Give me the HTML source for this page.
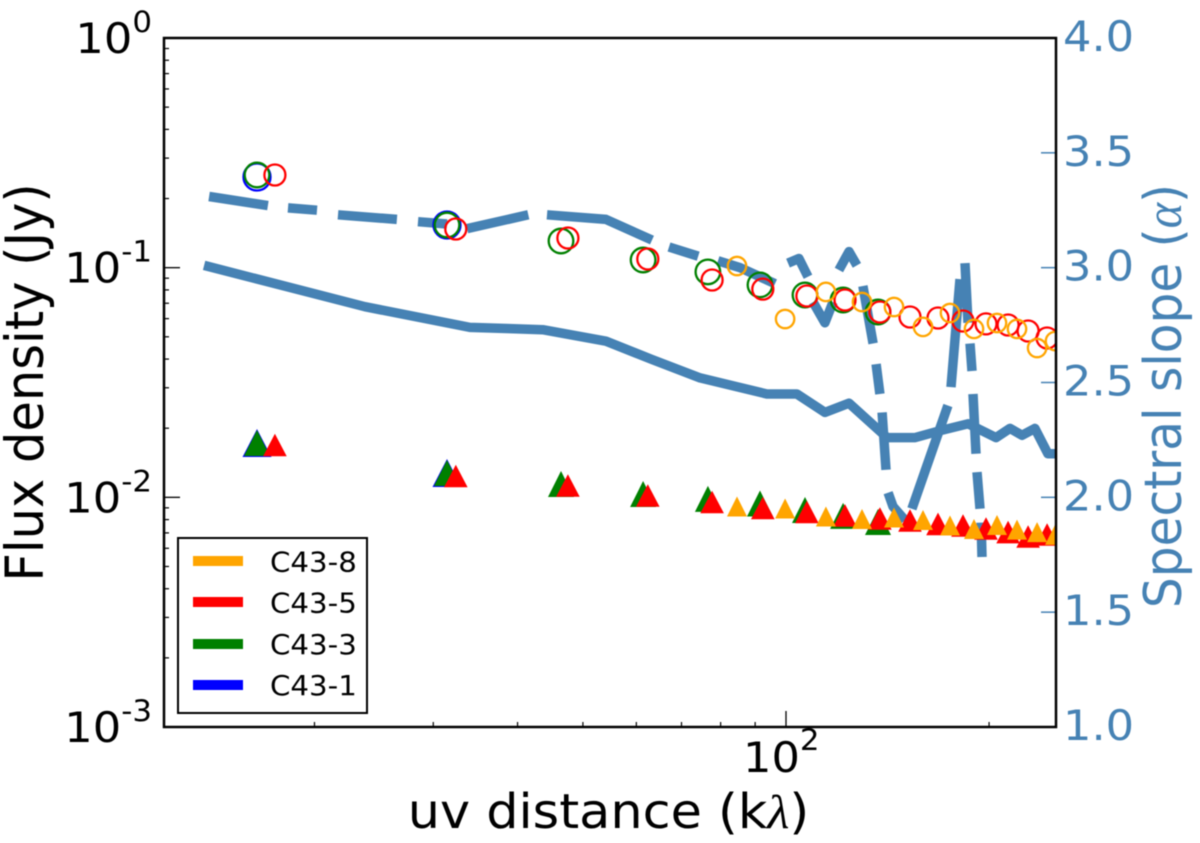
<!DOCTYPE html>
<html lang="en">
<head>
<meta charset="utf-8">
<title>Flux density and spectral slope vs uv distance</title>
<style>
html,body{margin:0;padding:0;background:#fff}
svg{display:block;filter:blur(0.4px)}
text{font-family:"DejaVu Sans","Liberation Sans",sans-serif}
</style>
</head>
<body>
<svg id="chart" xmlns="http://www.w3.org/2000/svg" width="1200" height="843" viewBox="0 0 1200 843">
  <defs><clipPath id="plot-clip"><rect x="164" y="38" width="892" height="689"/></clipPath></defs>
  <rect width="1200" height="843" fill="#fff"/>
  <g id="plot" clip-path="url(#plot-clip)"></g>
  <g id="axes"></g>
  <text transform="translate(608.5,828) scale(1.065,1)" text-anchor="middle" font-size="47.8" fill="#000">uv distance (k<tspan font-style="italic" font-family="Liberation Serif">λ</tspan>)</text>
  <text transform="translate(43,382.5) scale(1.065,1) rotate(-90)" text-anchor="middle" font-size="49.5" fill="#000">Flux density (Jy)</text>
  <text transform="translate(1181,396) scale(1.065,1) rotate(-90)" text-anchor="middle" font-size="48.6" fill="#4682b4">Spectral slope (<tspan font-style="italic" font-family="Liberation Serif">α</tspan>)</text>
  <g>
    <rect x="178" y="538" width="189" height="175" fill="#fff" stroke="#000" stroke-width="2"/>
    <rect x="193" y="556" width="50" height="10" fill="#ffa500"/>
    <text transform="translate(270,571.5) scale(1.065,1)" font-size="27.5">C43-8</text>
    <rect x="193" y="597" width="50" height="10" fill="#ff0000"/>
    <text transform="translate(270,612.5) scale(1.065,1)" font-size="27.5">C43-5</text>
    <rect x="193" y="639" width="50" height="10" fill="#008000"/>
    <text transform="translate(270,654) scale(1.065,1)" font-size="27.5">C43-3</text>
    <rect x="193" y="680" width="50" height="10" fill="#0000ff"/>
    <text transform="translate(270,695) scale(1.065,1)" font-size="27.5">C43-1</text>
  </g>
</svg>
<script>
// --- Tick data ---
const fluxDecades = [0, -1, -2, -3];
const fluxMinorFactors = [2, 3, 4, 5, 6, 7, 8, 9];
const uvMinorTicks = [20, 30, 40, 50, 60, 70, 80, 90, 200];
const uvMajorTicks = [100];
const slopeTicks = [1.0, 1.5, 2.0, 2.5, 3.0, 3.5, 4.0];
const slopeLabels = ['1.0', '1.5', '2.0', '2.5', '3.0', '3.5', '4.0'];

// --- Spectral slope, solid curve ---
const solidUv = [13.72, 23.76, 34.0, 43.6, 54.1, 63.3, 74.6, 93.7, 103.8, 114.2, 124, 141.2, 155.4, 169.2, 186.1, 204.8, 214.8, 223.8, 233.9, 244.5, 251];
const solidSlope = [3.01, 2.83, 2.74, 2.73, 2.68, 2.60, 2.52, 2.45, 2.45, 2.37, 2.41, 2.26, 2.26, 2.29, 2.32, 2.26, 2.30, 2.27, 2.30, 2.19, 2.19];

// --- Spectral slope, dashed curve (null marks a dash gap) ---
const dashedUv = [13.96, 17.06, null, 18.27, 20.17, null, 21.67, 26.5, null, 28.48, 31.44, null, 33.67, 41.5, null, 44.23, 54.1, 63.3, null, 67.07, 74.1, null, 79.3, 85.5, 96.3, null, 100.7, 104.5, 107.8, null, 109.7, 114.2, 117.4, null, 119.8, 124, 127.4, null, 130, 134.6, null, 136, 137.8, null, 138.8, 140.7, null, 141.7, 144.1, 150.1, null, 153.7, 173.8, null, 175.6, 181.1, null, 184.2, 186.1, null, 187.4, 188.7, null, 189.3, 191.3, null, 191.9, 193.9, null, 194.6, 195.2];
const dashedSlope = [3.31, 3.27, null, 3.26, 3.25, null, 3.23, 3.21, null, 3.20, 3.19, null, 3.17, 3.23, null, 3.23, 3.21, 3.12, null, 3.09, 3.05, null, 3.03, 3.00, 2.93, null, 3.02, 3.04, 2.96, null, 2.85, 2.76, 2.85, null, 2.99, 3.07, 3.01, null, 2.92, 2.67, null, 2.58, 2.45, null, 2.37, 2.12, null, 2.02, 1.96, 1.90, null, 1.95, 2.40, null, 2.48, 2.95, null, 3.02, 2.76, null, 2.67, 2.55, null, 2.45, 2.19, null, 2.11, 1.95, null, 1.89, 1.74];

// --- uv distance per configuration ---
const uvC431 = [16.44, 31.44];
const uvC433 = [16.44, 31.44, 46.4, 61.4, 76.6, 91.5, 106.7, 121.5, 136.9];
const uvC435 = [17.47, 32.4, 47.5, 62.4, 77.7, 92.4, 107.4, 122.3, 137.8, 152.7, 168, 183, 197.9, 213.4, 228.5, 243.8];
const uvC438 = [84.6, 99.7, 114.6, 129.6, 144.6, 159.6, 175, 190, 205.5, 220, 235.6, 250.5];

// --- Open circles (upper flux) ---
const circleC431 = [0.2482, 0.1534];
const circleC433 = [0.2532, 0.1534, 0.1306, 0.1080, 0.0958, 0.0841, 0.0760, 0.0723, 0.0641];
const circleC435 = [0.2532, 0.1474, 0.1346, 0.1091, 0.0884, 0.0807, 0.0753, 0.0723, 0.0641, 0.0610, 0.0604, 0.0586, 0.0569, 0.0563, 0.0530, 0.0494];
const circleC438 = [0.1017, 0.0598, 0.0784, 0.0709, 0.0674, 0.0552, 0.0635, 0.0541, 0.0574, 0.0541, 0.0447, 0.0479];

// --- Filled triangles (lower flux) ---
const triangleC431 = [0.01725, 0.01276];
const triangleC433 = [0.01725, 0.01276, 0.01143, 0.01034, 0.00984, 0.00940, 0.00881, 0.00830, 0.00781];
const triangleC435 = [0.01690, 0.01239, 0.01126, 0.01019, 0.00954, 0.00899, 0.00863, 0.00834, 0.00809, 0.00793, 0.00766, 0.00754, 0.00732, 0.00706, 0.00675, 0.00689];
const triangleC438 = [0.00912, 0.00894, 0.00825, 0.00805, 0.00817, 0.00797, 0.00754, 0.00728, 0.00758, 0.00724, 0.00706, 0.00686];

// --- Axis functions ---
const NS = 'http://www.w3.org/2000/svg';
const L = 164, R = 1056, T = 38, B = 727;
const TEXT_STRETCH = 'scale(1.065,1)';
function xScale(uv) { return 786 + 674.6 * (Math.log10(uv) - 2); }
function yFlux(f) { return T - 229.67 * Math.log10(f); }
function ySlope(a) { return B - 229.67 * (a - 1); }
function make(tag, attrs, parent) {
  const el = document.createElementNS(NS, tag);
  for (const k in attrs) el.setAttribute(k, attrs[k]);
  parent.appendChild(el);
  return el;
}

const plot = document.getElementById('plot');
const axes = document.getElementById('axes');
const BLUE = '#4682b4';

// --- Lines ---
function linePath(xs, ys) {
  let d = '', pen = false;
  xs.forEach(function (x, i) {
    if (x === null) { pen = false; return; }
    d += (pen ? 'L' : 'M') + xScale(x).toFixed(1) + ' ' + ySlope(ys[i]).toFixed(1);
    pen = true;
  });
  return d;
}
const lineStyle = { fill: 'none', stroke: BLUE, 'stroke-width': 9.5, 'stroke-linejoin': 'round', 'stroke-linecap': 'butt' };
const solidLine = make('path', Object.assign({ d: linePath(solidUv, solidSlope) }, lineStyle), plot);


const dashedLine = make('path', Object.assign({ d: linePath(dashedUv, dashedSlope) }, lineStyle), plot);



// --- Markers ---
function drawCircles(xs, ys, color, r) {
  xs.forEach(function (x, i) {
    const c = make('circle', { cx: xScale(x).toFixed(1), cy: yFlux(ys[i]).toFixed(1), r: r, fill: 'none', stroke: color, 'stroke-width': 2.3 }, plot);
    
    
  });
}
function drawTriangles(xs, ys, color, hw, hh) {
  xs.forEach(function (x, i) {
    const cx = xScale(x), cy = yFlux(ys[i]);
    const pts = [cx, cy - hh, cx + hw, cy + hh, cx - hw, cy + hh].map(function (v) { return v.toFixed(1); });
    const t = make('polygon', { points: pts.join(' '), fill: color }, plot);
    
    
  });
}
drawCircles(uvC431, circleC431, '#0000ff', 13.5);
drawCircles(uvC433, circleC433, '#008000', 12.3);
drawCircles(uvC435, circleC435, '#ff0000', 10.5);
drawCircles(uvC438, circleC438, '#ffa500', 9.2);
drawTriangles(uvC431, triangleC431, '#0000ff', 14.5, 14);
drawTriangles(uvC433, triangleC433, '#008000', 13, 13);
drawTriangles(uvC435, triangleC435, '#ff0000', 11.8, 11.3);
drawTriangles(uvC438, triangleC438, '#ffa500', 10, 10);

// --- Ticks ---
function tick(x1, y1, x2, y2, color, w, name) {
  const l = make('line', { x1: x1, y1: y1, x2: x2, y2: y2, stroke: color, 'stroke-width': w }, axes);
  
  
}
uvMinorTicks.forEach(function (v) { tick(xScale(v), B, xScale(v), B - 5, '#000', 1.2, 'x-minor-tick'); });
uvMajorTicks.forEach(function (v) {
  tick(xScale(v), B, xScale(v), B - 16, '#000', 1.3, 'x-major-tick');
  const t = make('text', { transform: 'translate(' + (xScale(v) - 43) + ',772) ' + TEXT_STRETCH, 'font-size': 42, fill: '#000' }, axes);
  
  
  t.textContent = '10';
  const s = make('tspan', { 'font-size': 29, dy: -22 }, t);
  s.textContent = String(Math.round(Math.log10(v)));
});
fluxDecades.forEach(function (dec) {
  const y = yFlux(Math.pow(10, dec));
  tick(L, y, L + 16, y, '#000', 1.3, 'y-major-tick');
  const t = make('text', { transform: 'translate(152,' + (y + 15) + ') ' + TEXT_STRETCH, 'font-size': 42, 'text-anchor': 'end', fill: '#000' }, axes);
  
  
  t.textContent = '10';
  const s = make('tspan', { 'font-size': 29, dy: -21 }, t);
  s.textContent = String(dec);
});
fluxDecades.slice(1).forEach(function (dec) {
  fluxMinorFactors.forEach(function (m) {
    const y = yFlux(m * Math.pow(10, dec));
    tick(L, y, L + 5, y, '#000', 1.2, 'y-minor-tick');
  });
});
slopeTicks.forEach(function (v, i) {
  const y = ySlope(v);
  tick(R - 15, y, R, y, BLUE, 1.5, 'right-y-tick');
  const t = make('text', { transform: 'translate(1063,' + (y + 13) + ') ' + TEXT_STRETCH, 'font-size': 42, fill: BLUE }, axes);
  
  
  t.textContent = slopeLabels[i];
});

// --- Spines ---
const spines = make('rect', { x: L, y: T, width: R - L, height: B - T, fill: 'none', stroke: '#000', 'stroke-width': 2.5 }, axes);


</script>
</body>
</html>
